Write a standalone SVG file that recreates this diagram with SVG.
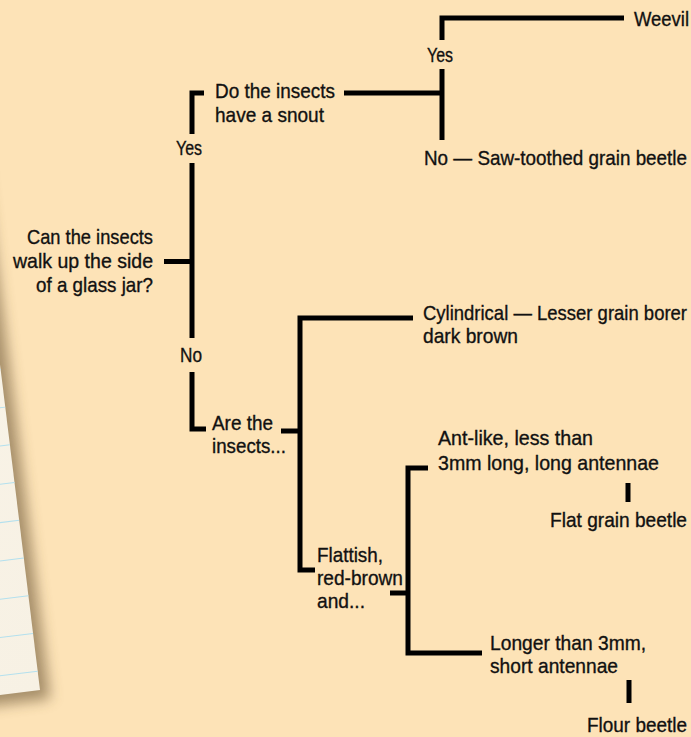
<svg xmlns="http://www.w3.org/2000/svg" width="691" height="737" viewBox="0 0 691 737">
  <defs>
    <filter id="soft" x="-20%" y="-20%" width="140%" height="140%">
      <feGaussianBlur stdDeviation="7"/>
    </filter>
    <linearGradient id="paperFill" x1="0" y1="0" x2="1" y2="1">
      <stop offset="0" stop-color="#fdf9ef"/>
      <stop offset="1" stop-color="#f7f1e4"/>
    </linearGradient>
    <style>
      .bg { fill: #fde3b7; }
      .rule { stroke: #b3e0ee; stroke-width: 1; }
      .wire { fill: none; stroke: #000; stroke-width: 5; stroke-linecap: butt; stroke-linejoin: miter; }
      text { font-family: "Liberation Sans", Arial, sans-serif; font-size: 21px; fill: #111; stroke: #111; stroke-width: 0.35px; }
      .mid { text-anchor: middle; }
      .end { text-anchor: end; }
    </style>
  </defs>

  <rect class="bg" x="0" y="0" width="691" height="737"/>

  <!-- lined note paper tucked in at the left edge -->
  <g id="paper" transform="translate(40,690) rotate(-7)">
    <rect x="-600" y="-900" width="600" height="900" fill="#5e4a2a" opacity="0.55" transform="translate(9,10)" filter="url(#soft)"/>
    <rect x="-600" y="-900" width="600" height="900" fill="url(#paperFill)"/>
    <g class="rule">
      <line x1="-600" y1="-19" x2="0" y2="-19"/>
      <line x1="-600" y1="-57" x2="0" y2="-57"/>
      <line x1="-600" y1="-95" x2="0" y2="-95"/>
      <line x1="-600" y1="-133" x2="0" y2="-133"/>
      <line x1="-600" y1="-171" x2="0" y2="-171"/>
      <line x1="-600" y1="-209" x2="0" y2="-209"/>
      <line x1="-600" y1="-247" x2="0" y2="-247"/>
      <line x1="-600" y1="-285" x2="0" y2="-285"/>
      <line x1="-600" y1="-323" x2="0" y2="-323"/>
      <line x1="-600" y1="-361" x2="0" y2="-361"/>
      <line x1="-600" y1="-399" x2="0" y2="-399"/>
      <line x1="-600" y1="-437" x2="0" y2="-437"/>
      <line x1="-600" y1="-475" x2="0" y2="-475"/>
      <line x1="-600" y1="-513" x2="0" y2="-513"/>
      <line x1="-600" y1="-551" x2="0" y2="-551"/>
      <line x1="-600" y1="-589" x2="0" y2="-589"/>
      <line x1="-600" y1="-627" x2="0" y2="-627"/>
    </g>
  </g>

  <!-- connectors of the key -->
  <g id="connectors" class="wire">
    <!-- first question: Yes / No -->
    <path d="M164,261.5 H192"/>
    <path d="M204,93 H192 V134"/>
    <path d="M192,163 V338"/>
    <path d="M192,372 V429 H206"/>
    <!-- snout question -->
    <path d="M344,93 H442"/>
    <path d="M442,69 V140"/>
    <path d="M442,40 V18 H624"/>
    <!-- shape question -->
    <path d="M281,431 H300"/>
    <path d="M413,318 H300 V570 H315"/>
    <!-- flattish question -->
    <path d="M390,593 H408"/>
    <path d="M428,468 H408 V653 H482"/>
    <!-- result ticks -->
    <path d="M628,483 V502"/>
    <path d="M629,680 V703"/>
  </g>

  <g id="q-walk">
    <text class="end" x="153" y="244" textLength="126" lengthAdjust="spacingAndGlyphs">Can the insects</text>
    <text class="end" x="153" y="268" textLength="140" lengthAdjust="spacingAndGlyphs">walk up the side</text>
    <text class="end" x="153" y="292" textLength="117" lengthAdjust="spacingAndGlyphs">of a glass jar?</text>
  </g>
  <g id="lbl-yes-1"><text class="mid" x="189" y="155" textLength="26" lengthAdjust="spacingAndGlyphs">Yes</text></g>
  <g id="lbl-no-1"><text class="mid" x="191" y="362" textLength="22" lengthAdjust="spacingAndGlyphs">No</text></g>

  <g id="q-snout">
    <text x="215" y="98" textLength="120" lengthAdjust="spacingAndGlyphs">Do the insects</text>
    <text x="215" y="122" textLength="109" lengthAdjust="spacingAndGlyphs">have a snout</text>
  </g>
  <g id="lbl-yes-2"><text class="mid" x="440" y="62" textLength="26" lengthAdjust="spacingAndGlyphs">Yes</text></g>
  <g id="r-weevil"><text x="634" y="26" textLength="55" lengthAdjust="spacingAndGlyphs">Weevil</text></g>
  <g id="r-sawtoothed"><text x="424" y="165" textLength="263" lengthAdjust="spacingAndGlyphs">No — Saw-toothed grain beetle</text></g>

  <g id="q-shape">
    <text x="212" y="430" textLength="61" lengthAdjust="spacingAndGlyphs">Are the</text>
    <text x="212" y="453" textLength="74" lengthAdjust="spacingAndGlyphs">insects...</text>
  </g>
  <g id="r-borer">
    <text x="423" y="320" textLength="264" lengthAdjust="spacingAndGlyphs">Cylindrical — Lesser grain borer</text>
    <text x="423" y="343" textLength="95" lengthAdjust="spacingAndGlyphs">dark brown</text>
  </g>

  <g id="q-flattish">
    <text x="317" y="562" textLength="66" lengthAdjust="spacingAndGlyphs">Flattish,</text>
    <text x="317" y="585" textLength="86" lengthAdjust="spacingAndGlyphs">red-brown</text>
    <text x="317" y="608" textLength="48" lengthAdjust="spacingAndGlyphs">and...</text>
  </g>
  <g id="opt-antlike">
    <text x="438" y="445" textLength="155" lengthAdjust="spacingAndGlyphs">Ant-like, less than</text>
    <text x="438" y="470" textLength="221" lengthAdjust="spacingAndGlyphs">3mm long, long antennae</text>
  </g>
  <g id="r-flatgrain"><text class="end" x="687" y="527" textLength="137" lengthAdjust="spacingAndGlyphs">Flat grain beetle</text></g>
  <g id="opt-longer">
    <text x="490" y="650" textLength="156" lengthAdjust="spacingAndGlyphs">Longer than 3mm,</text>
    <text x="490" y="673" textLength="128" lengthAdjust="spacingAndGlyphs">short antennae</text>
  </g>
  <g id="r-flour"><text class="end" x="687" y="732" textLength="100" lengthAdjust="spacingAndGlyphs">Flour beetle</text></g>
</svg>
